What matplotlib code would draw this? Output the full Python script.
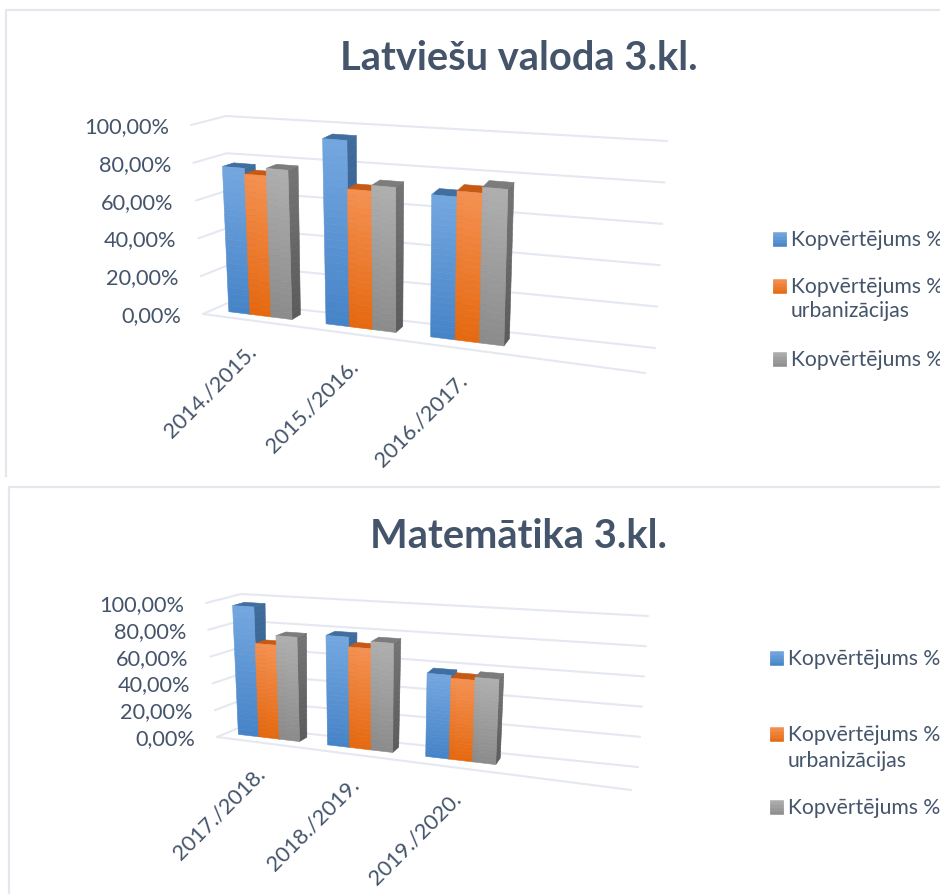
import numpy as np
import matplotlib
matplotlib.use("Agg")
import matplotlib.pyplot as plt
from matplotlib.collections import PolyCollection

plt.rcParams['font.family'] = ['Lato', 'DejaVu Sans']

TEXT = '#44546A'
GRID = '#E4E8F0'
FRAME = '#E4E7EE'

# ---- data -----------------------------------------------------------------
title_a = 'Latviešu valoda 3.kl.'
title_b = 'Matemātika 3.kl.'
years_a = ['2014./2015.', '2015./2016.', '2016./2017.']
years_b = ['2017./2018.', '2018./2019.', '2019./2020.']
blue_a = [77, 96, 72]
orange_a = [74, 71, 75]
gray_a = [78, 74, 78]
blue_b = [96, 79, 58]
orange_b = [69, 72, 56]
gray_b = [76, 77, 58]
ticks = [0, 20, 40, 60, 80, 100]
tick_labels = ['0,00%', '20,00%', '40,00%', '60,00%', '80,00%', '100,00%']
legend_lines = [['Kopvērtējums %'], ['Kopvērtējums %', 'urbanizācijas'], ['Kopvērtējums %']]

# ---- styles ---------------------------------------------------------------
series_style = [
    dict(hi='#74A7DF', lo='#4583C7', side=('#3F6C9B', '#2F5A88'), top='#3F6E9F'),
    dict(hi='#F49152', lo='#E5680F', side=('#B85410', '#A04A0E'), top='#C65A14'),
    dict(hi='#AFAFAF', lo='#8B8B8B', side=('#747474', '#5A5A5A'), top='#7C7C7C'),
]


def blend(c1, c2, t):
    a = np.array(matplotlib.colors.to_rgb(c1))
    b = np.array(matplotlib.colors.to_rgb(c2))
    return tuple(a + (b - a) * t)


def shade(ax, quad, c_top, c_bottom, z, n=24):
    """Fill a quad (tl, tr, br, bl) with a vertical gradient."""
    tl, tr, br, bl = [np.array(p) for p in quad]
    polys, cols = [], []
    for i in range(n):
        a, b = i / n, (i + 1) / n
        polys.append([tl + (bl - tl) * a, tr + (br - tr) * a, tr + (br - tr) * b, tl + (bl - tl) * b])
        cols.append(blend(c_top, c_bottom, (a + b) / 2))
    ax.add_collection(PolyCollection(polys, facecolors=cols, edgecolors=cols, linewidths=0.4, zorder=z))


def draw_chart(ax, title, title_xy, years, series, corners, group_left, group_width,
               depth, label_centers, legend_x, legend_y):
    def P(u, v, w):
        # trilinear position in the oblique box: u across, v = value/100, w = depth
        c = corners
        r = np.zeros(2)
        for iu, fu in ((0, 1 - u), (1, u)):
            for iv, fv in ((0, 1 - v), (1, v)):
                for iw, fw in ((0, 1 - w), (1, w)):
                    r = r + np.array(c[(iu, iv, iw)]) * fu * fv * fw
        return r

    for t, lab in zip(ticks, tick_labels):
        v = t / 100
        pts = np.array([P(0, v, 0), P(0, v, 1), P(1, v, 1)])
        ax.plot(pts[:, 0], pts[:, 1], color=GRID, lw=1.5, zorder=1, solid_capstyle='round')
        ax.text(pts[0, 0] - 22, pts[0, 1] + 1, lab, ha='right', va='center', fontsize=15.7, color=TEXT)
    pts = np.array([P(0, 0, 0), P(1, 0, 0)])
    ax.plot(pts[:, 0], pts[:, 1], color=GRID, lw=1.5, zorder=1)

    z = 3
    w0, w1 = depth
    for g in range(len(years)):
        bw = group_width[g] / len(series)
        for s, vals in enumerate(series):
            st = series_style[s]
            u0 = group_left[g] + s * bw
            u1 = u0 + bw
            v = vals[g] / 100
            # side
            shade(ax, (P(u1, v, w0), P(u1, v, w1), P(u1, 0, w1), P(u1, 0, w0)), st['side'][0], st['side'][1], z)
            # top
            ax.add_patch(plt.Polygon([P(u0, v, w0), P(u0, v, w1), P(u1, v, w1), P(u1, v, w0)],
                                     facecolor=st['top'], edgecolor=st['top'], lw=0.4, zorder=z))
            # front
            shade(ax, (P(u0, v, w0), P(u1, v, w0), P(u1, 0, w0), P(u0, 0, w0)), st['hi'], st['lo'], z + 1)
            z += 2
        ax.text(label_centers[g][0], label_centers[g][1], years[g], rotation=45, ha='center', va='center',
                fontsize=15.7, color=TEXT, rotation_mode='anchor')

    ax.text(title_xy[0], title_xy[1], title, ha='center', va='center', fontsize=28.7, fontweight='bold', color=TEXT)

    for st, lines, ys in zip(series_style, legend_lines, legend_y):
        x = legend_x
        y = ys[0]
        shade(ax, ((x, y - 7), (x + 13, y - 7), (x + 13, y + 7), (x, y + 7)), st['hi'], st['lo'], 50)
        for line, yy in zip(lines, ys):
            ax.text(x + 18, yy, line, ha='left', va='center', fontsize=15.2, color=TEXT)


fig = plt.figure(figsize=(9.4, 8.95), dpi=100)
ax = fig.add_axes([0, 0, 1, 1])
ax.set_xlim(0, 940)
ax.set_ylim(895, 0)
ax.axis('off')

# outer frames of the two chart areas
ax.plot([6, 6, 940], [477, 11, 11], color=FRAME, lw=1.6)
ax.plot([9, 9, 940], [895, 488, 488], color=FRAME, lw=1.6)

corners_a = {
    (0, 0, 0): (203, 315), (0, 1, 0): (191, 126), (0, 0, 1): (230, 303), (0, 1, 1): (226, 117),
    (1, 0, 0): (645, 374), (1, 1, 0): (657, 167), (1, 0, 1): (655, 349), (1, 1, 1): (667, 142),
}
corners_b = {
    (0, 0, 0): (217, 738), (0, 1, 0): (206, 604), (0, 0, 1): (241, 728), (0, 1, 1): (241, 595),
    (1, 0, 0): (631, 791), (1, 1, 0): (644, 636), (1, 0, 1): (638, 768), (1, 1, 1): (648, 617),
}

draw_chart(ax, title_a, (519, 58), years_a, [blue_a, orange_a, gray_a], corners_a,
           [0.037, 0.26, 0.50], [0.145, 0.16, 0.168], (0.36, 0.71),
           [(210, 392), (312, 407), (421, 421)], 773,
           [[240], [287, 311], [360]])
draw_chart(ax, title_b, (519, 537), years_b, [blue_b, orange_b, gray_b], corners_b,
           [0.029, 0.248, 0.489], [0.15, 0.16, 0.172], (0.40, 0.75),
           [(219, 814), (313, 825), (415, 839)], 770,
           [[659], [735, 761], [808]])

fig.savefig('out.png', dpi=100)
